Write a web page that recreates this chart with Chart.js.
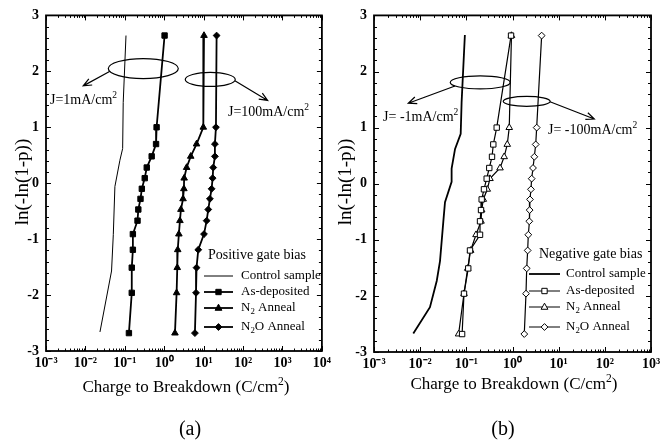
<!DOCTYPE html>
<html>
<head>
<meta charset="utf-8">
<script src="https://cdn.jsdelivr.net/npm/chart.js@4.4.1/dist/chart.umd.min.js"></script>
<style>
  body { margin: 0; background: #fff; }
  .panel { position: absolute; top: 0; }
  #wrapA { left: 0; }
  #wrapB { left: 330px; }
</style>
</head>
<body>
<div class="panel" id="wrapA"><canvas id="chartA" width="335" height="443"></canvas></div>
<div class="panel" id="wrapB"><canvas id="chartB" width="335" height="443"></canvas></div>
<script>
// ln(-ln(1-p)) levels shared by all marked series
const weibullY = [2.64, 1.0, 0.70, 0.48, 0.28, 0.09, -0.10, -0.28, -0.47, -0.67, -0.91, -1.19, -1.51, -1.96, -2.68];

// (a) positive gate bias, charge to breakdown (C/cm2)
const posControlX = [0.107, 0.091, 0.088, 0.075, 0.056, 0.051, 0.046, 0.0234];
const posControlY = [2.64, 1.44, 0.62, 0.41, -0.06, -0.92, -1.57, -2.66];
const posAsDeposited = [1.02, 0.64, 0.62, 0.48, 0.36, 0.32, 0.27, 0.25, 0.22, 0.21, 0.16, 0.16, 0.15, 0.15, 0.127];
const posN2 = [10.2, 9.8, 6.6, 4.7, 3.7, 3.2, 3.15, 3.0, 2.65, 2.5, 2.35, 2.2, 2.14, 2.06, 1.87];
const posN2O = [21.3, 20.5, 19.3, 19.3, 17.5, 16.9, 15.9, 14.4, 13.1, 11.9, 10.2, 7.3, 6.6, 6.4, 6.0];

// (b) negative gate bias
const negControlX = [0.093, 0.079, 0.0755, 0.057, 0.048, 0.048, 0.0345, 0.0317, 0.0269, 0.0229, 0.0163, 0.0071];
const negControlY = [2.65, 1.45, 0.89, 0.62, 0.27, 0.035, -0.33, -0.68, -1.38, -1.73, -2.2, -2.67];
const negAsDeposited = [0.93, 0.455, 0.384, 0.36, 0.314, 0.276, 0.241, 0.215, 0.208, 0.198, 0.198, 0.12, 0.11, 0.089, 0.081];
const negN2 = [0.95, 0.85, 0.77, 0.66, 0.537, 0.325, 0.284, 0.233, 0.215, 0.208, 0.162, 0.124, 0.107, 0.089, 0.068];
const negN2O = [4.28, 3.34, 3.18, 2.97, 2.78, 2.60, 2.51, 2.39, 2.35, 2.31, 2.20, 2.13, 2.03, 1.96, 1.80];

// axis ticks
const decadesA = [1e-3, 1e-2, 1e-1, 1, 10, 100, 1000, 10000];
const decadeLabelsA = ['10⁻³', '10⁻²', '10⁻¹', '10⁰', '10¹', '10²', '10³', '10⁴'];
const decadesB = decadesA.slice(0, 7);
const decadeLabelsB = decadeLabelsA.slice(0, 7);
const yTicks = [-3, -2, -1, 0, 1, 2, 3];

const SERIF = '"Liberation Serif", "Times New Roman", serif';

function toPoints(xs, ys) {
    return xs.map((x, i) => ({ x: x, y: ys[i] }));
}

// draws text pieces, some raised (sup) or lowered (sub)
function drawRich(ctx, parts, x, y, size, align) {
    let total = 0;
    parts.forEach(p => {
        ctx.font = (p.sup || p.sub ? size * 0.68 : size) + 'px ' + SERIF;
        total += ctx.measureText(p.t).width;
    });
    let cx = align === 'center' ? x - total / 2 : x;
    ctx.textAlign = 'left';
    ctx.textBaseline = 'middle';
    parts.forEach(p => {
        const small = p.sup || p.sub;
        ctx.font = (small ? size * 0.68 : size) + 'px ' + SERIF;
        let dy = 0;
        if (p.sup) dy = -size * 0.35;
        if (p.sub) dy = size * 0.25;
        ctx.fillText(p.t, cx, y + dy);
        cx += ctx.measureText(p.t).width;
    });
}

function drawMarker(ctx, style, x, y, r, filled) {
    ctx.beginPath();
    if (style === 'rect') {
        const s = r * Math.SQRT1_2;
        ctx.rect(x - s, y - s, 2 * s, 2 * s);
    } else if (style === 'triangle') {
        ctx.moveTo(x, y - r);
        ctx.lineTo(x + r * 0.9, y + r * 0.6);
        ctx.lineTo(x - r * 0.9, y + r * 0.6);
        ctx.closePath();
    } else if (style === 'rectRot') {
        ctx.moveTo(x, y - r);
        ctx.lineTo(x + r, y);
        ctx.lineTo(x, y + r);
        ctx.lineTo(x - r, y);
        ctx.closePath();
    } else {
        return;
    }
    ctx.fillStyle = filled ? '#000' : '#fff';
    ctx.fill();
    ctx.lineWidth = 1;
    ctx.strokeStyle = '#000';
    ctx.stroke();
}

function drawArrow(ctx, x0, y0, x1, y1) {
    ctx.beginPath();
    ctx.moveTo(x0, y0);
    ctx.lineTo(x1, y1);
    const a = Math.atan2(y1 - y0, x1 - x0);
    const len = 9;
    ctx.moveTo(x1 - len * Math.cos(a - 0.4), y1 - len * Math.sin(a - 0.4));
    ctx.lineTo(x1, y1);
    ctx.lineTo(x1 - len * Math.cos(a + 0.4), y1 - len * Math.sin(a + 0.4));
    ctx.stroke();
}

// frame, inward ticks, annotations, legend and titles
const decorPlugin = {
    id: 'decor',
    afterDraw(chart) {
        const ctx = chart.ctx;
        const area = chart.chartArea;
        const xs = chart.scales.x;
        const ys = chart.scales.y;
        const deco = chart.options.plugins.decor;
        ctx.save();
        ctx.strokeStyle = '#000';
        ctx.fillStyle = '#000';

        // box
        ctx.lineWidth = 1.8;
        ctx.strokeRect(area.left, area.top, area.right - area.left, area.bottom - area.top);

        // inward ticks
        ctx.lineWidth = 1;
        ctx.beginPath();
        const minExp = Math.round(Math.log10(xs.min));
        const maxExp = Math.round(Math.log10(xs.max));
        for (let e = minExp; e <= maxExp; e++) {
            for (let m = 1; m <= 9; m++) {
                const v = m * Math.pow(10, e);
                if (v > xs.max * 1.0001) break;
                const px = Math.round(xs.getPixelForValue(v)) + 0.5;
                const len = m === 1 ? 5 : 2.5;
                ctx.moveTo(px, area.bottom);
                ctx.lineTo(px, area.bottom - len);
                ctx.moveTo(px, area.top);
                ctx.lineTo(px, area.top + len);
            }
        }
        for (let i = -15; i <= 15; i++) {
            const v = i / 5;
            const py = Math.round(ys.getPixelForValue(v)) + 0.5;
            const len = i % 5 === 0 ? 5 : 3;
            ctx.moveTo(area.left, py);
            ctx.lineTo(area.left + len, py);
            ctx.moveTo(area.right, py);
            ctx.lineTo(area.right - len, py);
        }
        ctx.stroke();

        // ellipses and arrows
        ctx.lineWidth = 1.2;
        deco.ellipses.forEach(el => {
            ctx.beginPath();
            ctx.ellipse(xs.getPixelForValue(el.x), ys.getPixelForValue(el.y), el.rx, el.ry, 0, 0, Math.PI * 2);
            ctx.stroke();
        });
        deco.arrows.forEach(ar => {
            drawArrow(ctx,
                xs.getPixelForValue(ar.from[0]), ys.getPixelForValue(ar.from[1]),
                xs.getPixelForValue(ar.to[0]), ys.getPixelForValue(ar.to[1]));
        });
        deco.notes.forEach(n => {
            drawRich(ctx, [{ t: n.text }, { t: '2', sup: true }],
                xs.getPixelForValue(n.x), ys.getPixelForValue(n.y), 14, 'left');
        });

        // legend
        const lg = deco.legend;
        drawRich(ctx, [{ t: lg.title }], lg.titleX, lg.titleY, 14, 'left');
        chart.data.datasets.forEach((ds, i) => {
            const ry = lg.rowsY[i];
            ctx.beginPath();
            ctx.lineWidth = lg.lineWidths[i];
            ctx.moveTo(lg.lineX0, ry);
            ctx.lineTo(lg.lineX1, ry);
            ctx.stroke();
            if (ds.pointRadius > 0) {
                drawMarker(ctx, ds.pointStyle, (lg.lineX0 + lg.lineX1) / 2, ry, ds.pointRadius, ds.pointBackgroundColor === '#000');
            }
            ctx.fillStyle = '#000';
            drawRich(ctx, ds.legendParts, lg.textX, ry, 13, 'left');
        });

        // axis titles and panel letter
        drawRich(ctx, [{ t: 'Charge to Breakdown (C/cm' }, { t: '2', sup: true }, { t: ')' }],
            deco.xTitle[0], deco.xTitle[1], 17, 'center');
        drawRich(ctx, [{ t: deco.letter }], deco.letterPos[0], deco.letterPos[1], 20, 'center');
        ctx.translate(deco.yTitle[0], deco.yTitle[1]);
        ctx.rotate(-Math.PI / 2);
        drawRich(ctx, [{ t: 'ln(-ln(1-p))' }], 0, 0, 19, 'center');
        ctx.restore();
    }
};

function markedSet(parts, xs, style, filled, lineWidth) {
    return {
        legendParts: parts,
        data: toPoints(xs, weibullY),
        showLine: true,
        borderColor: '#000',
        borderWidth: lineWidth,
        pointStyle: style,
        pointRadius: style === 'rectRot' ? 3.4 : 3.8,
        pointBackgroundColor: filled ? '#000' : '#fff',
        pointBorderColor: '#000',
        pointBorderWidth: 1,
        tension: 0
    };
}

function controlSet(xs, ys, lineWidth) {
    return {
        legendParts: [{ t: 'Control sample' }],
        data: toPoints(xs, ys),
        showLine: true,
        borderColor: '#000',
        borderWidth: lineWidth,
        pointRadius: 0,
        tension: 0
    };
}

function makePanel(canvasId, datasets, decades, labels, layout, decor) {
    new Chart(document.getElementById(canvasId), {
        type: 'scatter',
        data: { datasets: datasets },
        options: {
            responsive: false,
            animation: false,
            layout: { padding: { left: 0, right: layout.padRight, top: layout.top, bottom: 0 } },
            plugins: {
                legend: { display: false },
                tooltip: { enabled: false },
                decor: decor
            },
            scales: {
                x: {
                    type: 'logarithmic',
                    min: decades[0],
                    max: decades[decades.length - 1],
                    grid: { display: false, drawTicks: false },
                    border: { display: false },
                    afterBuildTicks: s => { s.ticks = decades.map(v => ({ value: v })); },
                    afterFit: s => { s.height = 443 - layout.bottom; },
                    ticks: {
                        autoSkip: false,
                        maxRotation: 0,
                        padding: 4,
                        color: '#000',
                        font: { family: SERIF, size: 14, weight: 'bold' },
                        callback: (v, i) => labels[i]
                    }
                },
                y: {
                    min: -3,
                    max: 3,
                    grid: { display: false, drawTicks: false },
                    border: { display: false },
                    afterBuildTicks: s => { s.ticks = yTicks.map(v => ({ value: v })); },
                    afterFit: s => { s.width = layout.left; },
                    ticks: {
                        padding: 7,
                        color: '#000',
                        font: { family: SERIF, size: 14, weight: 'bold' },
                        callback: v => String(v)
                    }
                }
            }
        },
        plugins: [decorPlugin]
    });
}

const n2Parts = [{ t: 'N' }, { t: '2', sub: true }, { t: ' Anneal' }];
const n2oParts = [{ t: 'N' }, { t: '2', sub: true }, { t: 'O Anneal' }];

makePanel('chartA', [
    controlSet(posControlX, posControlY, 1),
    markedSet([{ t: 'As-deposited' }], posAsDeposited, 'rect', true, 1.8),
    markedSet(n2Parts, posN2, 'triangle', true, 1.8),
    markedSet(n2oParts, posN2O, 'rectRot', true, 1.8)
], decadesA, decadeLabelsA, { left: 46, padRight: 13, top: 12, bottom: 351 }, {
    ellipses: [{ x: 0.294, y: 2.05, rx: 35, ry: 10 }, { x: 14.7, y: 1.855, rx: 25, ry: 7 }],
    arrows: [{ from: [0.042, 2.0], to: [0.0088, 1.74] }, { from: [62, 1.83], to: [420, 1.48] }],
    notes: [{ x: 0.00126, y: 1.48, text: 'J=1mA/cm' }, { x: 41.3, y: 1.265, text: 'J=100mA/cm' }],
    legend: {
        title: 'Positive gate bias', titleX: 208, titleY: 255,
        lineX0: 204, lineX1: 233, textX: 241,
        rowsY: [276, 292, 308, 327], lineWidths: [1, 1.8, 1.8, 1.8]
    },
    xTitle: [186, 388], letter: '(a)', letterPos: [190, 430], yTitle: [23, 182]
});

makePanel('chartB', [
    controlSet(negControlX, negControlY, 1.8),
    markedSet([{ t: 'As-deposited' }], negAsDeposited, 'rect', false, 1.2),
    markedSet(n2Parts, negN2, 'triangle', false, 1.2),
    markedSet(n2oParts, negN2O, 'rectRot', false, 1.2)
], decadesB, decadeLabelsB, { left: 44, padRight: 14, top: 12, bottom: 352 }, {
    ellipses: [{ x: 0.2, y: 1.806, rx: 30, ry: 6.5 }, { x: 2.03, y: 1.468, rx: 23.5, ry: 5 }],
    arrows: [{ from: [0.0568, 1.742], to: [0.00553, 1.435] }, { from: [6.49, 1.46], to: [59.2, 1.153] }],
    notes: [{ x: 0.00157, y: 1.18, text: 'J= -1mA/cm' }, { x: 5.87, y: 0.953, text: 'J= -100mA/cm' }],
    legend: {
        title: 'Negative gate bias', titleX: 209, titleY: 254,
        lineX0: 199, lineX1: 230, textX: 236,
        rowsY: [274, 291, 307, 327], lineWidths: [1.8, 1, 1, 1]
    },
    xTitle: [184, 385], letter: '(b)', letterPos: [173, 430], yTitle: [16, 182]
});
</script>
</body>
</html>
